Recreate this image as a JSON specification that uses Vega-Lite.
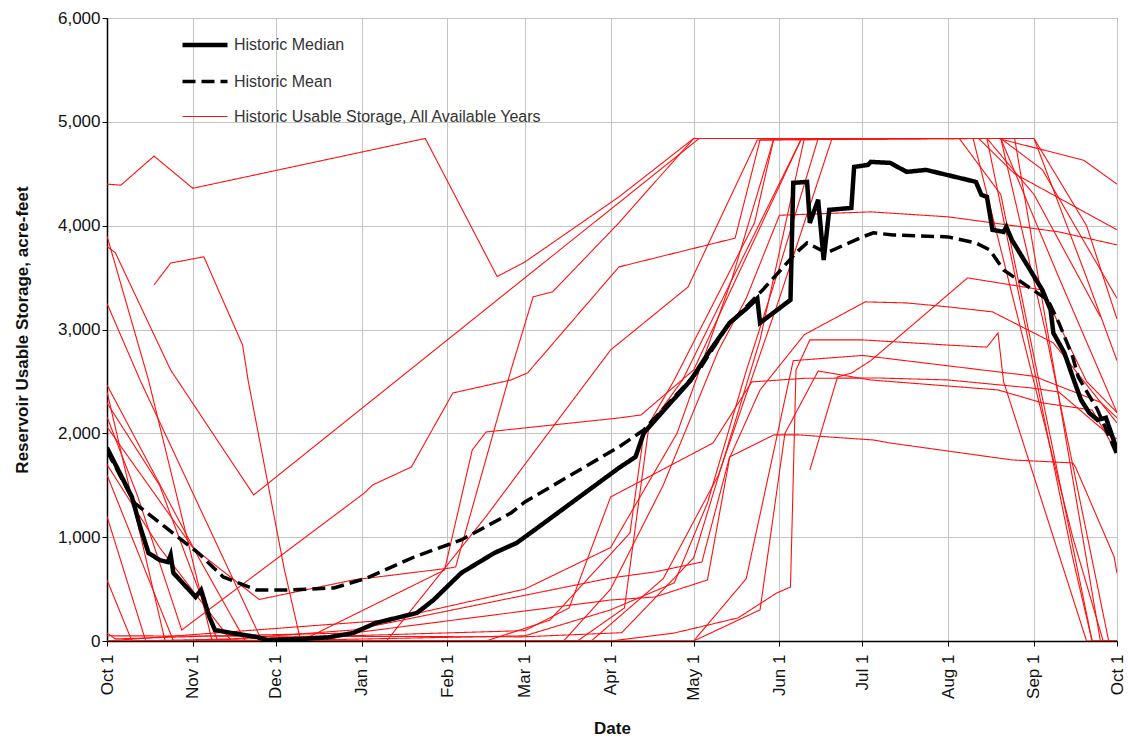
{
"$schema": "https://vega.github.io/schema/vega-lite/v6.json",
"width": 1010, "height": 623,
"autosize": {"type": "none"},
"padding": {"left": 107, "top": 18, "right": 13, "bottom": 102},
"config": {
 "font": "Liberation Sans",
 "view": {"stroke": "#222", "strokeWidth": 1},
 "axis": {"gridColor": "#c4c4c4", "gridWidth": 1, "domainColor": "#000", "domainWidth": 1.5, "tickColor": "#000", "labelColor": "#111", "titleColor": "#111", "labelFontSize": 17, "titleFontSize": 17, "titleFontWeight": "bold", "labelFont": "Liberation Sans", "titleFont": "Liberation Sans"},
 "legend": {"orient": "none", "legendX": 73, "legendY": 2, "symbolType": "stroke", "symbolSize": 2025, "labelFontSize": 16, "labelColor": "#333", "labelFont": "Liberation Sans", "labelLimit": 0, "rowPadding": 3, "padding": 0, "labelOffset": 4}
},
"data": {"values": [
{"series":"Historic Median","year":"M","date":"2000-10-01","storage":1860},
{"series":"Historic Median","year":"M","date":"2000-10-10","storage":1387},
{"series":"Historic Median","year":"M","date":"2000-10-13","storage":1098},
{"series":"Historic Median","year":"M","date":"2000-10-16","storage":848},
{"series":"Historic Median","year":"M","date":"2000-10-20","storage":780},
{"series":"Historic Median","year":"M","date":"2000-10-23","storage":760},
{"series":"Historic Median","year":"M","date":"2000-10-24","storage":829},
{"series":"Historic Median","year":"M","date":"2000-10-25","storage":655},
{"series":"Historic Median","year":"M","date":"2000-11-02","storage":424},
{"series":"Historic Median","year":"M","date":"2000-11-04","storage":491},
{"series":"Historic Median","year":"M","date":"2000-11-07","storage":231},
{"series":"Historic Median","year":"M","date":"2000-11-09","storage":106},
{"series":"Historic Median","year":"M","date":"2000-11-15","storage":77},
{"series":"Historic Median","year":"M","date":"2000-11-24","storage":39},
{"series":"Historic Median","year":"M","date":"2000-11-28","storage":10},
{"series":"Historic Median","year":"M","date":"2000-12-10","storage":20},
{"series":"Historic Median","year":"M","date":"2000-12-20","storage":35},
{"series":"Historic Median","year":"M","date":"2000-12-29","storage":77},
{"series":"Historic Median","year":"M","date":"2001-01-06","storage":173},
{"series":"Historic Median","year":"M","date":"2001-01-21","storage":270},
{"series":"Historic Median","year":"M","date":"2001-01-27","storage":395},
{"series":"Historic Median","year":"M","date":"2001-02-06","storage":655},
{"series":"Historic Median","year":"M","date":"2001-02-18","storage":848},
{"series":"Historic Median","year":"M","date":"2001-02-26","storage":944},
{"series":"Historic Median","year":"M","date":"2001-03-03","storage":1040},
{"series":"Historic Median","year":"M","date":"2001-04-04","storage":1667},
{"series":"Historic Median","year":"M","date":"2001-04-10","storage":1773},
{"series":"Historic Median","year":"M","date":"2001-04-13","storage":2004},
{"series":"Historic Median","year":"M","date":"2001-04-30","storage":2514},
{"series":"Historic Median","year":"M","date":"2001-05-07","storage":2800},
{"series":"Historic Median","year":"M","date":"2001-05-14","storage":3064},
{"series":"Historic Median","year":"M","date":"2001-05-20","storage":3200},
{"series":"Historic Median","year":"M","date":"2001-05-24","storage":3300},
{"series":"Historic Median","year":"M","date":"2001-05-25","storage":3064},
{"series":"Historic Median","year":"M","date":"2001-06-05","storage":3285},
{"series":"Historic Median","year":"M","date":"2001-06-06","storage":4412},
{"series":"Historic Median","year":"M","date":"2001-06-11","storage":4422},
{"series":"Historic Median","year":"M","date":"2001-06-12","storage":4027},
{"series":"Historic Median","year":"M","date":"2001-06-15","storage":4249},
{"series":"Historic Median","year":"M","date":"2001-06-17","storage":3670},
{"series":"Historic Median","year":"M","date":"2001-06-19","storage":4152},
{"series":"Historic Median","year":"M","date":"2001-06-27","storage":4171},
{"series":"Historic Median","year":"M","date":"2001-06-28","storage":4566},
{"series":"Historic Median","year":"M","date":"2001-07-03","storage":4585},
{"series":"Historic Median","year":"M","date":"2001-07-04","storage":4614},
{"series":"Historic Median","year":"M","date":"2001-07-11","storage":4605},
{"series":"Historic Median","year":"M","date":"2001-07-17","storage":4518},
{"series":"Historic Median","year":"M","date":"2001-07-24","storage":4537},
{"series":"Historic Median","year":"M","date":"2001-08-11","storage":4422},
{"series":"Historic Median","year":"M","date":"2001-08-13","storage":4297},
{"series":"Historic Median","year":"M","date":"2001-08-15","storage":4277},
{"series":"Historic Median","year":"M","date":"2001-08-17","storage":3960},
{"series":"Historic Median","year":"M","date":"2001-08-21","storage":3940},
{"series":"Historic Median","year":"M","date":"2001-08-22","storage":3988},
{"series":"Historic Median","year":"M","date":"2001-08-24","storage":3863},
{"series":"Historic Median","year":"M","date":"2001-09-04","storage":3381},
{"series":"Historic Median","year":"M","date":"2001-09-07","storage":3189},
{"series":"Historic Median","year":"M","date":"2001-09-08","storage":2967},
{"series":"Historic Median","year":"M","date":"2001-09-12","storage":2775},
{"series":"Historic Median","year":"M","date":"2001-09-15","storage":2543},
{"series":"Historic Median","year":"M","date":"2001-09-18","storage":2322},
{"series":"Historic Median","year":"M","date":"2001-09-21","storage":2197},
{"series":"Historic Median","year":"M","date":"2001-09-24","storage":2129},
{"series":"Historic Median","year":"M","date":"2001-09-27","storage":2150},
{"series":"Historic Median","year":"M","date":"2001-10-01","storage":1840},
{"series":"Historic Mean","year":"A","date":"2000-10-01","storage":1830},
{"series":"Historic Mean","year":"A","date":"2000-10-11","storage":1329},
{"series":"Historic Mean","year":"A","date":"2000-10-22","storage":1098},
{"series":"Historic Mean","year":"A","date":"2000-11-03","storage":848},
{"series":"Historic Mean","year":"A","date":"2000-11-12","storage":617},
{"series":"Historic Mean","year":"A","date":"2000-11-24","storage":491},
{"series":"Historic Mean","year":"A","date":"2000-12-05","storage":491},
{"series":"Historic Mean","year":"A","date":"2000-12-22","storage":511},
{"series":"Historic Mean","year":"A","date":"2001-01-03","storage":607},
{"series":"Historic Mean","year":"A","date":"2001-01-20","storage":809},
{"series":"Historic Mean","year":"A","date":"2001-02-06","storage":973},
{"series":"Historic Mean","year":"A","date":"2001-02-24","storage":1233},
{"series":"Historic Mean","year":"A","date":"2001-03-01","storage":1339},
{"series":"Historic Mean","year":"A","date":"2001-04-04","storage":1869},
{"series":"Historic Mean","year":"A","date":"2001-04-13","storage":2033},
{"series":"Historic Mean","year":"A","date":"2001-05-03","storage":2610},
{"series":"Historic Mean","year":"A","date":"2001-05-13","storage":3025},
{"series":"Historic Mean","year":"A","date":"2001-05-26","storage":3382},
{"series":"Historic Mean","year":"A","date":"2001-06-07","storage":3738},
{"series":"Historic Mean","year":"A","date":"2001-06-11","storage":3834},
{"series":"Historic Mean","year":"A","date":"2001-06-18","storage":3738},
{"series":"Historic Mean","year":"A","date":"2001-07-01","storage":3892},
{"series":"Historic Mean","year":"A","date":"2001-07-05","storage":3931},
{"series":"Historic Mean","year":"A","date":"2001-07-12","storage":3911},
{"series":"Historic Mean","year":"A","date":"2001-08-01","storage":3892},
{"series":"Historic Mean","year":"A","date":"2001-08-11","storage":3834},
{"series":"Historic Mean","year":"A","date":"2001-08-16","storage":3767},
{"series":"Historic Mean","year":"A","date":"2001-08-21","storage":3574},
{"series":"Historic Mean","year":"A","date":"2001-08-30","storage":3410},
{"series":"Historic Mean","year":"A","date":"2001-09-06","storage":3285},
{"series":"Historic Mean","year":"A","date":"2001-09-10","storage":3064},
{"series":"Historic Mean","year":"A","date":"2001-09-15","storage":2736},
{"series":"Historic Mean","year":"A","date":"2001-09-17","storage":2543},
{"series":"Historic Mean","year":"A","date":"2001-09-24","storage":2225},
{"series":"Historic Mean","year":"A","date":"2001-10-01","storage":1792},
{"series":"All Years","year":"Y1","date":"2000-10-01","storage":4400},
{"series":"All Years","year":"Y1","date":"2000-10-06","storage":4390},
{"series":"All Years","year":"Y1","date":"2000-10-18","storage":4670},
{"series":"All Years","year":"Y1","date":"2000-11-01","storage":4360},
{"series":"All Years","year":"Y1","date":"2001-01-24","storage":4840},
{"series":"All Years","year":"Y1","date":"2001-02-19","storage":3510},
{"series":"All Years","year":"Y1","date":"2001-03-01","storage":3650},
{"series":"All Years","year":"Y1","date":"2001-03-14","storage":3890},
{"series":"All Years","year":"Y1","date":"2001-04-04","storage":4277},
{"series":"All Years","year":"Y1","date":"2001-05-01","storage":4840},
{"series":"All Years","year":"Y1","date":"2001-08-19","storage":4840},
{"series":"All Years","year":"Y1","date":"2001-09-19","storage":4630},
{"series":"All Years","year":"Y1","date":"2001-10-01","storage":4400},
{"series":"All Years","year":"Y2","date":"2000-10-01","storage":3800},
{"series":"All Years","year":"Y2","date":"2000-10-04","storage":3740},
{"series":"All Years","year":"Y2","date":"2000-10-24","storage":2610},
{"series":"All Years","year":"Y2","date":"2000-11-23","storage":1407},
{"series":"All Years","year":"Y2","date":"2001-05-03","storage":4840},
{"series":"All Years","year":"Y2","date":"2001-08-12","storage":4840},
{"series":"All Years","year":"Y2","date":"2001-08-25","storage":4500},
{"series":"All Years","year":"Y2","date":"2001-10-01","storage":3960},
{"series":"All Years","year":"Y3","date":"2000-10-01","storage":3900},
{"series":"All Years","year":"Y3","date":"2000-10-16","storage":2514},
{"series":"All Years","year":"Y3","date":"2000-11-08","storage":0},
{"series":"All Years","year":"Y3","date":"2001-03-20","storage":0},
{"series":"All Years","year":"Y3","date":"2001-04-06","storage":318},
{"series":"All Years","year":"Y3","date":"2001-04-15","storage":2100},
{"series":"All Years","year":"Y3","date":"2001-04-24","storage":2514},
{"series":"All Years","year":"Y3","date":"2001-05-23","storage":4027},
{"series":"All Years","year":"Y3","date":"2001-05-30","storage":4840},
{"series":"All Years","year":"Y3","date":"2001-08-05","storage":4840},
{"series":"All Years","year":"Y3","date":"2001-08-20","storage":4300},
{"series":"All Years","year":"Y3","date":"2001-09-22","storage":0},
{"series":"All Years","year":"Y3","date":"2001-10-01","storage":0},
{"series":"All Years","year":"Y4","date":"2000-10-01","storage":3250},
{"series":"All Years","year":"Y4","date":"2000-10-13","storage":2510},
{"series":"All Years","year":"Y4","date":"2000-11-26","storage":0},
{"series":"All Years","year":"Y4","date":"2001-03-01","storage":50},
{"series":"All Years","year":"Y4","date":"2001-04-01","storage":300},
{"series":"All Years","year":"Y4","date":"2001-04-24","storage":560},
{"series":"All Years","year":"Y4","date":"2001-05-06","storage":1330},
{"series":"All Years","year":"Y4","date":"2001-05-20","storage":2600},
{"series":"All Years","year":"Y4","date":"2001-06-01","storage":3600},
{"series":"All Years","year":"Y4","date":"2001-06-15","storage":4840},
{"series":"All Years","year":"Y4","date":"2001-08-20","storage":4840},
{"series":"All Years","year":"Y4","date":"2001-09-10","storage":3500},
{"series":"All Years","year":"Y4","date":"2001-10-01","storage":2200},
{"series":"All Years","year":"Y5","date":"2000-10-18","storage":3430},
{"series":"All Years","year":"Y5","date":"2000-10-24","storage":3640},
{"series":"All Years","year":"Y5","date":"2000-11-05","storage":3700},
{"series":"All Years","year":"Y5","date":"2000-11-19","storage":2850},
{"series":"All Years","year":"Y5","date":"2000-11-21","storage":2510},
{"series":"All Years","year":"Y5","date":"2000-12-04","storage":700},
{"series":"All Years","year":"Y5","date":"2000-12-10","storage":0},
{"series":"All Years","year":"Y5","date":"2001-05-01","storage":0},
{"series":"All Years","year":"Y5","date":"2001-05-25","storage":300},
{"series":"All Years","year":"Y5","date":"2001-06-03","storage":2000},
{"series":"All Years","year":"Y5","date":"2001-06-15","storage":2600},
{"series":"All Years","year":"Y5","date":"2001-07-04","storage":2514},
{"series":"All Years","year":"Y5","date":"2001-08-19","storage":2418},
{"series":"All Years","year":"Y5","date":"2001-09-04","storage":2293},
{"series":"All Years","year":"Y5","date":"2001-09-22","storage":2225},
{"series":"All Years","year":"Y5","date":"2001-10-01","storage":1811},
{"series":"All Years","year":"Y6","date":"2000-10-01","storage":2466},
{"series":"All Years","year":"Y6","date":"2000-11-03","storage":809},
{"series":"All Years","year":"Y6","date":"2000-11-20","storage":0},
{"series":"All Years","year":"Y6","date":"2001-01-10","storage":0},
{"series":"All Years","year":"Y6","date":"2001-02-15","storage":1200},
{"series":"All Years","year":"Y6","date":"2001-03-15","storage":2200},
{"series":"All Years","year":"Y6","date":"2001-04-01","storage":2803},
{"series":"All Years","year":"Y6","date":"2001-04-29","storage":3410},
{"series":"All Years","year":"Y6","date":"2001-05-24","storage":4825},
{"series":"All Years","year":"Y6","date":"2001-08-10","storage":4840},
{"series":"All Years","year":"Y6","date":"2001-08-16","storage":4200},
{"series":"All Years","year":"Y6","date":"2001-09-15","storage":1000},
{"series":"All Years","year":"Y6","date":"2001-09-26","storage":0},
{"series":"All Years","year":"Y6","date":"2001-10-01","storage":0},
{"series":"All Years","year":"Y7","date":"2000-10-01","storage":2293},
{"series":"All Years","year":"Y7","date":"2000-10-20","storage":1500},
{"series":"All Years","year":"Y7","date":"2000-11-10","storage":0},
{"series":"All Years","year":"Y7","date":"2000-12-10","storage":0},
{"series":"All Years","year":"Y7","date":"2001-01-31","storage":684},
{"series":"All Years","year":"Y7","date":"2001-02-10","storage":1840},
{"series":"All Years","year":"Y7","date":"2001-02-15","storage":2013},
{"series":"All Years","year":"Y7","date":"2001-03-01","storage":2052},
{"series":"All Years","year":"Y7","date":"2001-04-04","storage":2148},
{"series":"All Years","year":"Y7","date":"2001-04-12","storage":2177},
{"series":"All Years","year":"Y7","date":"2001-05-01","storage":2610},
{"series":"All Years","year":"Y7","date":"2001-06-09","storage":4840},
{"series":"All Years","year":"Y7","date":"2001-08-20","storage":4840},
{"series":"All Years","year":"Y7","date":"2001-09-05","storage":3000},
{"series":"All Years","year":"Y7","date":"2001-09-28","storage":0},
{"series":"All Years","year":"Y7","date":"2001-10-01","storage":0},
{"series":"All Years","year":"Y8","date":"2000-10-01","storage":2158},
{"series":"All Years","year":"Y8","date":"2000-10-12","storage":1400},
{"series":"All Years","year":"Y8","date":"2000-10-28","storage":106},
{"series":"All Years","year":"Y8","date":"2001-01-02","storage":1425},
{"series":"All Years","year":"Y8","date":"2001-01-05","storage":1503},
{"series":"All Years","year":"Y8","date":"2001-01-19","storage":1676},
{"series":"All Years","year":"Y8","date":"2001-02-03","storage":2389},
{"series":"All Years","year":"Y8","date":"2001-02-24","storage":2514},
{"series":"All Years","year":"Y8","date":"2001-03-02","storage":2582},
{"series":"All Years","year":"Y8","date":"2001-04-04","storage":3603},
{"series":"All Years","year":"Y8","date":"2001-05-16","storage":3880},
{"series":"All Years","year":"Y8","date":"2001-05-25","storage":4826},
{"series":"All Years","year":"Y8","date":"2001-08-15","storage":4840},
{"series":"All Years","year":"Y8","date":"2001-09-01","storage":4300},
{"series":"All Years","year":"Y8","date":"2001-09-25","storage":3121},
{"series":"All Years","year":"Y9","date":"2000-10-01","storage":2062},
{"series":"All Years","year":"Y9","date":"2000-11-01","storage":900},
{"series":"All Years","year":"Y9","date":"2000-11-25","storage":400},
{"series":"All Years","year":"Y9","date":"2000-12-29","storage":588},
{"series":"All Years","year":"Y9","date":"2001-02-02","storage":703},
{"series":"All Years","year":"Y9","date":"2001-02-04","storage":713},
{"series":"All Years","year":"Y9","date":"2001-02-24","storage":2610},
{"series":"All Years","year":"Y9","date":"2001-03-04","storage":3314},
{"series":"All Years","year":"Y9","date":"2001-03-11","storage":3362},
{"series":"All Years","year":"Y9","date":"2001-04-04","storage":4027},
{"series":"All Years","year":"Y9","date":"2001-05-01","storage":4840},
{"series":"All Years","year":"Y9","date":"2001-08-20","storage":4840},
{"series":"All Years","year":"Y9","date":"2001-09-04","storage":4540},
{"series":"All Years","year":"Y9","date":"2001-10-01","storage":3300},
{"series":"All Years","year":"Y10","date":"2000-10-01","storage":588},
{"series":"All Years","year":"Y10","date":"2000-10-10","storage":0},
{"series":"All Years","year":"Y10","date":"2000-11-15","storage":20},
{"series":"All Years","year":"Y10","date":"2000-12-29","storage":106},
{"series":"All Years","year":"Y10","date":"2001-04-01","storage":607},
{"series":"All Years","year":"Y10","date":"2001-04-17","storage":665},
{"series":"All Years","year":"Y10","date":"2001-05-04","storage":761},
{"series":"All Years","year":"Y10","date":"2001-05-14","storage":1773},
{"series":"All Years","year":"Y10","date":"2001-05-30","storage":1985},
{"series":"All Years","year":"Y10","date":"2001-06-08","storage":1985},
{"series":"All Years","year":"Y10","date":"2001-07-05","storage":1936},
{"series":"All Years","year":"Y10","date":"2001-07-11","storage":1907},
{"series":"All Years","year":"Y10","date":"2001-08-24","storage":1744},
{"series":"All Years","year":"Y10","date":"2001-09-15","storage":1715},
{"series":"All Years","year":"Y10","date":"2001-09-16","storage":1676},
{"series":"All Years","year":"Y10","date":"2001-09-30","storage":809},
{"series":"All Years","year":"Y10","date":"2001-10-01","storage":650},
{"series":"All Years","year":"Y11","date":"2000-10-01","storage":77},
{"series":"All Years","year":"Y11","date":"2000-10-04","storage":20},
{"series":"All Years","year":"Y11","date":"2000-11-10","storage":50},
{"series":"All Years","year":"Y11","date":"2000-12-29","storage":77},
{"series":"All Years","year":"Y11","date":"2001-04-01","storage":395},
{"series":"All Years","year":"Y11","date":"2001-04-17","storage":424},
{"series":"All Years","year":"Y11","date":"2001-05-06","storage":588},
{"series":"All Years","year":"Y11","date":"2001-05-14","storage":1763},
{"series":"All Years","year":"Y11","date":"2001-05-25","storage":2418},
{"series":"All Years","year":"Y11","date":"2001-06-10","storage":2950},
{"series":"All Years","year":"Y11","date":"2001-07-02","storage":3266},
{"series":"All Years","year":"Y11","date":"2001-07-17","storage":3256},
{"series":"All Years","year":"Y11","date":"2001-08-01","storage":3218},
{"series":"All Years","year":"Y11","date":"2001-08-17","storage":3170},
{"series":"All Years","year":"Y11","date":"2001-09-08","storage":2871},
{"series":"All Years","year":"Y11","date":"2001-10-01","storage":2100},
{"series":"All Years","year":"Y12","date":"2000-10-01","storage":0},
{"series":"All Years","year":"Y12","date":"2001-04-01","storage":0},
{"series":"All Years","year":"Y12","date":"2001-04-24","storage":77},
{"series":"All Years","year":"Y12","date":"2001-05-17","storage":222},
{"series":"All Years","year":"Y12","date":"2001-05-31","storage":462},
{"series":"All Years","year":"Y12","date":"2001-06-05","storage":520},
{"series":"All Years","year":"Y12","date":"2001-06-07","storage":2610},
{"series":"All Years","year":"Y12","date":"2001-06-12","storage":2900},
{"series":"All Years","year":"Y12","date":"2001-07-01","storage":2900},
{"series":"All Years","year":"Y12","date":"2001-08-01","storage":2850},
{"series":"All Years","year":"Y12","date":"2001-08-15","storage":2830},
{"series":"All Years","year":"Y12","date":"2001-08-19","storage":2967},
{"series":"All Years","year":"Y12","date":"2001-08-21","storage":2500},
{"series":"All Years","year":"Y12","date":"2001-09-20","storage":0},
{"series":"All Years","year":"Y12","date":"2001-10-01","storage":0},
{"series":"All Years","year":"Y13","date":"2000-10-01","storage":1600},
{"series":"All Years","year":"Y13","date":"2000-10-25","storage":0},
{"series":"All Years","year":"Y13","date":"2001-03-01","storage":100},
{"series":"All Years","year":"Y13","date":"2001-03-17","storage":318},
{"series":"All Years","year":"Y13","date":"2001-04-01","storage":1387},
{"series":"All Years","year":"Y13","date":"2001-05-08","storage":1907},
{"series":"All Years","year":"Y13","date":"2001-05-22","storage":2495},
{"series":"All Years","year":"Y13","date":"2001-06-10","storage":2530},
{"series":"All Years","year":"Y13","date":"2001-07-07","storage":2533},
{"series":"All Years","year":"Y13","date":"2001-08-01","storage":2514},
{"series":"All Years","year":"Y13","date":"2001-08-31","storage":2437},
{"series":"All Years","year":"Y13","date":"2001-09-10","storage":2398},
{"series":"All Years","year":"Y13","date":"2001-09-29","storage":1965},
{"series":"All Years","year":"Y13","date":"2001-10-01","storage":1950},
{"series":"All Years","year":"Y14","date":"2001-06-12","storage":1647},
{"series":"All Years","year":"Y14","date":"2001-06-22","storage":2543},
{"series":"All Years","year":"Y14","date":"2001-06-27","storage":2580},
{"series":"All Years","year":"Y14","date":"2001-07-04","storage":2700},
{"series":"All Years","year":"Y14","date":"2001-08-08","storage":3497},
{"series":"All Years","year":"Y14","date":"2001-09-04","storage":3381},
{"series":"All Years","year":"Y14","date":"2001-09-20","storage":2500},
{"series":"All Years","year":"Y14","date":"2001-10-01","storage":2200},
{"series":"All Years","year":"Y15","date":"2000-10-01","storage":1700},
{"series":"All Years","year":"Y15","date":"2000-10-20","storage":900},
{"series":"All Years","year":"Y15","date":"2000-11-15","storage":0},
{"series":"All Years","year":"Y15","date":"2001-03-15","storage":0},
{"series":"All Years","year":"Y15","date":"2001-04-01","storage":500},
{"series":"All Years","year":"Y15","date":"2001-04-20","storage":1500},
{"series":"All Years","year":"Y15","date":"2001-05-10","storage":2800},
{"series":"All Years","year":"Y15","date":"2001-05-20","storage":3300},
{"series":"All Years","year":"Y15","date":"2001-06-01","storage":4100},
{"series":"All Years","year":"Y15","date":"2001-07-04","storage":4133},
{"series":"All Years","year":"Y15","date":"2001-08-01","storage":4085},
{"series":"All Years","year":"Y15","date":"2001-09-10","storage":3940},
{"series":"All Years","year":"Y15","date":"2001-10-01","storage":3815},
{"series":"All Years","year":"Y16","date":"2000-10-01","storage":1200},
{"series":"All Years","year":"Y16","date":"2000-10-15","storage":0},
{"series":"All Years","year":"Y16","date":"2001-02-15","storage":0},
{"series":"All Years","year":"Y16","date":"2001-03-10","storage":200},
{"series":"All Years","year":"Y16","date":"2001-04-08","storage":1040},
{"series":"All Years","year":"Y16","date":"2001-04-13","storage":2000},
{"series":"All Years","year":"Y16","date":"2001-04-27","storage":2514},
{"series":"All Years","year":"Y16","date":"2001-06-09","storage":4840},
{"series":"All Years","year":"Y16","date":"2001-09-01","storage":4840},
{"series":"All Years","year":"Y16","date":"2001-09-20","storage":3500},
{"series":"All Years","year":"Y16","date":"2001-10-01","storage":2700},
{"series":"All Years","year":"Y17","date":"2000-10-01","storage":0},
{"series":"All Years","year":"Y17","date":"2001-03-25","storage":0},
{"series":"All Years","year":"Y17","date":"2001-04-20","storage":600},
{"series":"All Years","year":"Y17","date":"2001-05-10","storage":1600},
{"series":"All Years","year":"Y17","date":"2001-06-01","storage":3300},
{"series":"All Years","year":"Y17","date":"2001-06-20","storage":4840},
{"series":"All Years","year":"Y17","date":"2001-08-25","storage":4840},
{"series":"All Years","year":"Y17","date":"2001-09-25","storage":0},
{"series":"All Years","year":"Y17","date":"2001-10-01","storage":0},
{"series":"All Years","year":"Y18","date":"2000-10-01","storage":50},
{"series":"All Years","year":"Y18","date":"2001-02-28","storage":40},
{"series":"All Years","year":"Y18","date":"2001-04-05","storage":80},
{"series":"All Years","year":"Y18","date":"2001-05-01","storage":800},
{"series":"All Years","year":"Y18","date":"2001-05-25","storage":2900},
{"series":"All Years","year":"Y18","date":"2001-06-10","storage":4840},
{"series":"All Years","year":"Y18","date":"2001-08-15","storage":4840},
{"series":"All Years","year":"Y18","date":"2001-09-15","storage":800},
{"series":"All Years","year":"Y18","date":"2001-09-22","storage":0},
{"series":"All Years","year":"Y18","date":"2001-10-01","storage":0},
{"series":"All Years","year":"Y19","date":"2000-10-01","storage":0},
{"series":"All Years","year":"Y19","date":"2001-01-10","storage":200},
{"series":"All Years","year":"Y19","date":"2001-03-01","storage":500},
{"series":"All Years","year":"Y19","date":"2001-04-01","storage":900},
{"series":"All Years","year":"Y19","date":"2001-04-25","storage":2000},
{"series":"All Years","year":"Y19","date":"2001-05-15","storage":3500},
{"series":"All Years","year":"Y19","date":"2001-05-30","storage":4840},
{"series":"All Years","year":"Y19","date":"2001-09-01","storage":4840},
{"series":"All Years","year":"Y19","date":"2001-09-20","storage":4000},
{"series":"All Years","year":"Y19","date":"2001-10-01","storage":3100},
{"series":"All Years","year":"Y20","date":"2000-10-01","storage":2400},
{"series":"All Years","year":"Y20","date":"2000-10-22","storage":0},
{"series":"All Years","year":"Y20","date":"2001-05-01","storage":0},
{"series":"All Years","year":"Y20","date":"2001-05-20","storage":600},
{"series":"All Years","year":"Y20","date":"2001-06-06","storage":2700},
{"series":"All Years","year":"Y20","date":"2001-07-01","storage":2750},
{"series":"All Years","year":"Y20","date":"2001-08-01","storage":2650},
{"series":"All Years","year":"Y20","date":"2001-09-01","storage":2550},
{"series":"All Years","year":"Y20","date":"2001-09-25","storage":2300},
{"series":"All Years","year":"Y20","date":"2001-10-01","storage":2150}
]},
"encoding": {
 "x": {"field": "date", "type": "temporal",
   "scale": {"type": "utc", "domain": [{"year": 2000, "month": 10, "date": 1, "utc": true}, {"year": 2001, "month": 10, "date": 1, "utc": true}], "nice": false},
   "axis": {"title": "Date", "format": "%b %-d", "labelAngle": -90, "tickCount": {"interval": "month", "step": 1}, "labelPadding": 8, "tickSize": 5, "labelFlush": false, "labelOverlap": false, "titlePadding": 20}},
 "y": {"field": "storage", "type": "quantitative",
   "scale": {"domain": [0, 6000], "nice": false},
   "axis": {"title": "Reservoir Usable Storage, acre-feet", "format": ",.0f", "values": [0, 1000, 2000, 3000, 4000, 5000, 6000], "tickSize": 5, "labelPadding": 2, "titlePadding": 26}},
 "color": {"field": "series", "type": "nominal",
   "scale": {"domain": ["Historic Median", "Historic Mean", "All Years"], "range": ["#000000", "#000000", "#ff1010"]},
   "legend": {"title": null,
     "labelExpr": "datum.label == 'All Years' ? 'Historic Usable Storage, All Available Years' : datum.label",
     "encode": {"symbols": {"update": {
        "strokeDash": {"signal": "datum.value == 'Historic Mean' ? [13, 6] : [1, 0]"},
        "strokeWidth": {"signal": "datum.value == 'Historic Median' ? 4.5 : datum.value == 'Historic Mean' ? 3.5 : 1.2"}
     }}}}},
 "strokeDash": {"field": "series", "type": "nominal",
   "scale": {"domain": ["Historic Median", "Historic Mean", "All Years"], "range": [[1, 0], [13, 6], [1, 0]]},
   "legend": null},
 "strokeWidth": {"field": "series", "type": "nominal",
   "scale": {"type": "ordinal", "domain": ["Historic Median", "Historic Mean", "All Years"], "range": [4.5, 3.5, 1.1]},
   "legend": null},
 "detail": {"field": "year", "type": "nominal"}
},
"layer": [
 {"transform": [{"filter": "datum.series == 'All Years'"}], "mark": {"type": "line", "clip": true}},
 {"transform": [{"filter": "datum.series != 'All Years'"}], "mark": {"type": "line", "clip": true, "strokeCap": "butt"}}
]
}
